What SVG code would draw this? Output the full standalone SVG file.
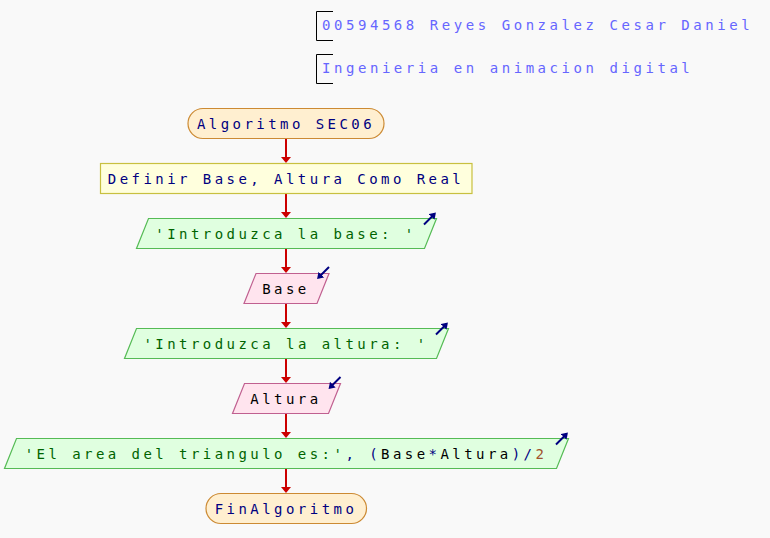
<svg xmlns="http://www.w3.org/2000/svg" width="770" height="538" viewBox="0 0 770 538">
<style>
text{font-family:"DejaVu Sans Mono","Liberation Mono",monospace;font-size:14px;letter-spacing:3.45px}
.t{text-anchor:middle}
.hdr{fill:#6666ff;letter-spacing:3.55px}
.kw{fill:#000080}
.id{fill:#000000}
.str{fill:#006400}
.num{fill:#a0522d}
.term{fill:#ffefd0;stroke:#cc8a33;stroke-width:1.2}
.def{fill:#ffffdd;stroke:#c8c040;stroke-width:1.2}
.out{fill:#e0ffe0;stroke:#55bb55;stroke-width:1.2}
.in{fill:#ffe4ee;stroke:#c06090;stroke-width:1.2}
.conn{stroke:#cc0000;stroke-width:2;fill:none;marker-end:url(#ah)}
.ico{stroke:#000080;stroke-width:2;fill:none;marker-end:url(#ih)}
.br{stroke:#000;stroke-width:1;fill:none}
</style>
<defs>
<marker id="ah" viewBox="0 0 6 10" refX="3" refY="5" markerWidth="6" markerHeight="10" markerUnits="userSpaceOnUse" orient="auto"><path d="M0,0 L6,5 L0,10 z" fill="#cc0000"/></marker>
<marker id="ih" viewBox="0 0 6 8" refX="4" refY="4" markerWidth="6" markerHeight="8" markerUnits="userSpaceOnUse" orient="auto"><path d="M0,0 L6,4 L0,8 z" fill="#000080"/></marker>
</defs>
<rect width="770" height="538" fill="#f9f9f9"/>
<g id="header1">
<path class="br" d="M333,11.5 H316.5 V40.5 H333"/>
<text class="hdr" x="322" y="30">00594568 Reyes Gonzalez Cesar Daniel</text>
</g>
<g id="header2">
<path class="br" d="M333,54.5 H316.5 V83.5 H333"/>
<text class="hdr" x="322" y="73">Ingenieria en animacion digital</text>
</g>
<g id="connectors">
<path class="conn" d="M286,138 V160"/>
<path class="conn" d="M286,193 V215"/>
<path class="conn" d="M286,248 V270"/>
<path class="conn" d="M286,303 V325"/>
<path class="conn" d="M286,358 V380"/>
<path class="conn" d="M286,413 V435"/>
<path class="conn" d="M286,468 V490"/>
</g>
<g id="start">
<rect class="term" x="188" y="108.5" width="196" height="30" rx="15"/>
<text class="t kw" x="286" y="128.5">Algoritmo SEC06</text>
</g>
<g id="define">
<rect class="def" x="100.5" y="163.5" width="371.5" height="30"/>
<text class="t kw" x="286" y="183.5">Definir Base, Altura Como Real</text>
</g>
<g id="write1">
<polygon class="out" points="148.5,218.5 436.5,218.5 424.5,248.5 136.5,248.5"/>
<text class="t str" x="286" y="238.5">'Introduzca la base: '</text>
<path class="ico" d="M424,224.5 L434.5,214"/>
</g>
<g id="read1">
<polygon class="in" points="256,273.5 329,273.5 317,303.5 244,303.5"/>
<text class="t id" x="286" y="293.5">Base</text>
<path class="ico" d="M329,267 L318.5,277.5"/>
</g>
<g id="write2">
<polygon class="out" points="136.5,328.5 448.5,328.5 436.5,358.5 124.5,358.5"/>
<text class="t str" x="286" y="348.5">'Introduzca la altura: '</text>
<path class="ico" d="M436,334.5 L446.5,324"/>
</g>
<g id="read2">
<polygon class="in" points="244.5,383.5 340.5,383.5 328.5,413.5 232.5,413.5"/>
<text class="t id" x="286" y="403.5">Altura</text>
<path class="ico" d="M340.5,377 L330,387.5"/>
</g>
<g id="write3">
<polygon class="out" points="16.5,438.5 568.5,438.5 556.5,468.5 4.5,468.5"/>
<text class="t" x="286" y="458.5"><tspan class="str">'El area del triangulo es:'</tspan><tspan class="kw">, (</tspan><tspan class="id">Base</tspan><tspan class="kw">*</tspan><tspan class="id">Altura</tspan><tspan class="kw">)/</tspan><tspan class="num">2</tspan></text>
<path class="ico" d="M556,444.5 L566.5,434"/>
</g>
<g id="end">
<rect class="term" x="206" y="493.5" width="160.5" height="30" rx="15"/>
<text class="t kw" x="286" y="513.5">FinAlgoritmo</text>
</g>
</svg>
